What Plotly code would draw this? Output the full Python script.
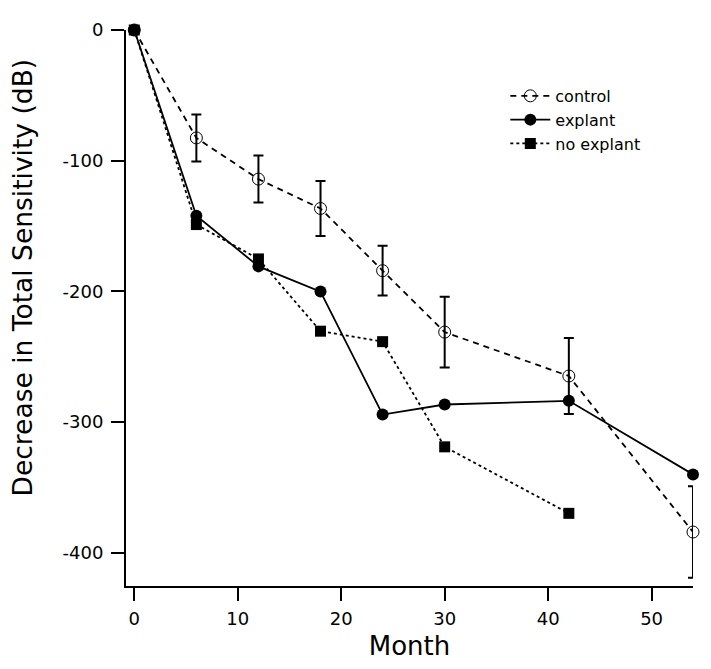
import plotly.graph_objects as go

months_control = [0, 6, 12, 18, 24, 30, 42, 54]
control = [0, -82.6, -114.1, -136.6, -184.2, -231.2, -264.8, -384.2]
control_err = [0, 18, 18, 21, 19, 27, 29, 35]

months_explant = [0, 6, 12, 18, 24, 30, 42, 54]
explant = [0, -142.1, -180.9, -200.2, -294.3, -286.6, -283.8, -340.1]

months_noexplant = [0, 6, 12, 18, 24, 30, 42]
noexplant = [0, -148.9, -175.2, -230.5, -238.5, -319.0, -369.9]

x_ticks = [0, 10, 20, 30, 40, 50]
y_ticks = [0, -100, -200, -300, -400]

FONT = "DejaVu Sans"

fig = go.Figure()
fig.add_trace(go.Scatter(
    x=months_control, y=control, name="control", mode="lines+markers",
    line=dict(color="black", width=1.8, dash="6px,5px"),
    marker=dict(symbol="circle-open", size=12, color="black", line=dict(width=1)),
    error_y=dict(type="data", array=control_err, visible=True, color="black",
                 thickness=2, width=5),
    cliponaxis=False,
))
fig.add_trace(go.Scatter(
    x=months_explant, y=explant, name="explant", mode="lines+markers",
    line=dict(color="black", width=1.8),
    marker=dict(symbol="circle", size=12, color="black"),
    cliponaxis=False,
))
fig.add_trace(go.Scatter(
    x=months_noexplant, y=noexplant, name="no explant", mode="lines+markers",
    line=dict(color="black", width=1.8, dash="dot"),
    marker=dict(symbol="square", size=11, color="black"),
    cliponaxis=False,
))

# page body has an 8px margin, so the figure is sized/positioned to compensate
fig.update_layout(
    width=703, height=661,
    margin=dict(l=118, r=18, t=11, b=83, pad=0),
    paper_bgcolor="white", plot_bgcolor="white",
    font=dict(family=FONT, color="black", size=18),
    showlegend=True,
    legend=dict(x=0.669, y=0.912, xanchor="left", yanchor="top",
                font=dict(family=FONT, size=16, color="black"),
                bgcolor="rgba(0,0,0,0)", itemwidth=40, tracegroupgap=0),
    annotations=[dict(
        text="Decrease in Total Sensitivity (dB)", textangle=-90,
        xref="paper", yref="paper", x=(14 - 118) / 567.3, y=0.555,
        xanchor="center", yanchor="middle", showarrow=False,
        font=dict(family=FONT, size=26.5, color="black"),
    )],
)
fig.update_xaxes(
    range=[-0.8, 54], tickvals=x_ticks, ticktext=[str(v) for v in x_ticks],
    showline=True, linecolor="black", linewidth=2, mirror=False,
    ticks="outside", ticklen=13, tickwidth=2, tickcolor="black",
    showgrid=False, zeroline=False,
    tickfont=dict(family=FONT, size=18), ticklabelstandoff=2,
    title=dict(text="Month", font=dict(family=FONT, size=26), standoff=9),
)
fig.update_yaxes(
    range=[-425.5, 0], tickvals=y_ticks, ticktext=[str(v) for v in y_ticks],
    showline=True, linecolor="black", linewidth=2, mirror=False,
    ticks="outside", ticklen=13, tickwidth=2, tickcolor="black",
    showgrid=False, zeroline=False,
    tickfont=dict(family=FONT, size=18), ticklabelstandoff=4,
)

fig.write_html("out.html")
